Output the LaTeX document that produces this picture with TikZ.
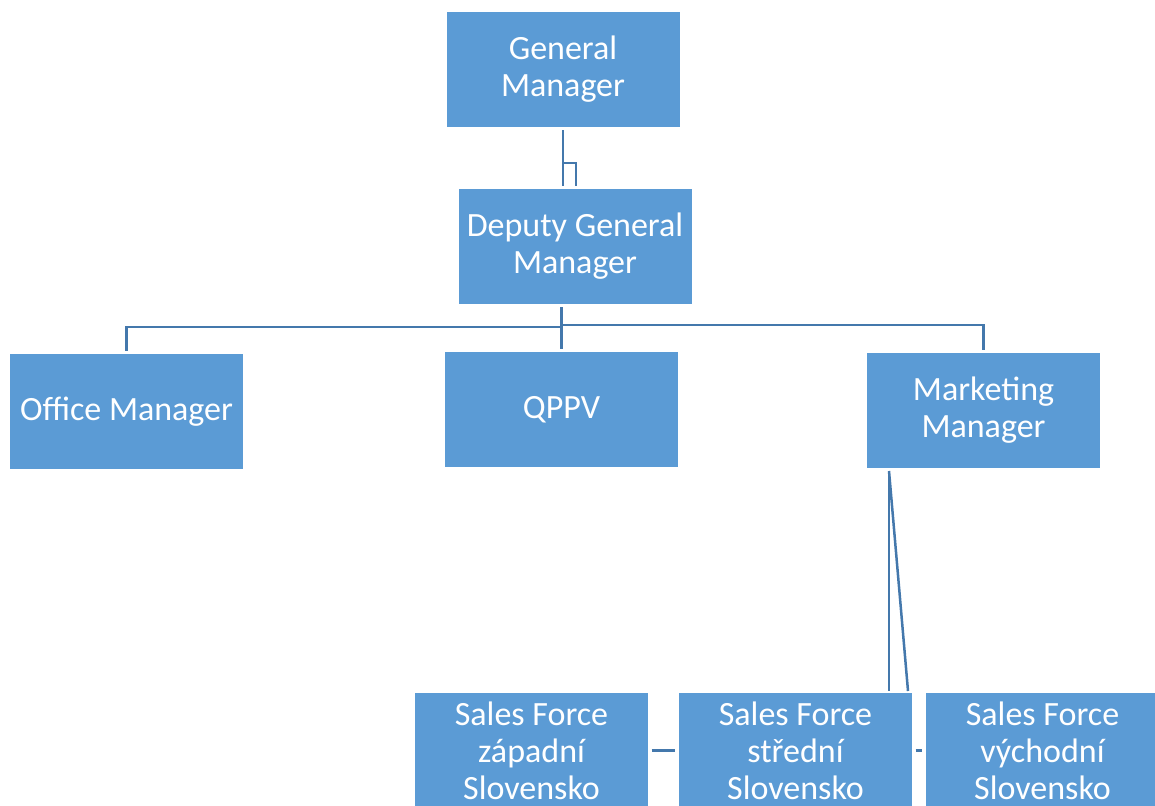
\documentclass[tikz,border=0pt]{standalone}
\usepackage{fontspec}
\setmainfont{Carlito}
\usepackage{xcolor}
\usetikzlibrary{positioning}
\definecolor{BoxBlue}{RGB}{91,155,213}
\definecolor{LineBlue}{RGB}{68,120,172}
\tikzset{
	orgbox/.style={fill=BoxBlue, text=white, inner sep=0pt, minimum width=233pt, minimum height=115pt, align=center, font=\fontsize{34}{37}\selectfont},
	conn/.style={draw=LineBlue, line width=2.5pt}
}
\begin{document}
\begin{tikzpicture}[x=1pt, y=-1pt]
			\useasboundingbox (0,0) rectangle (1155,805);
			\clip (0,0) rectangle (1155,805);
			\node[orgbox] (gm) at (563,69.5) {General\\Manager};
			\node[orgbox] (dgm) at (575,246.5) {Deputy General\\Manager};
			\node[orgbox] (om) at (126.5,411.5) {Office Manager};
			\node[orgbox] (qppv) at (561.5,409.5) {QPPV};
			\node[orgbox] (mm) at (983.5,410.5) {Marketing\\Manager};
			\node[orgbox] (sfz) at (531.5,750.5) {Sales Force\\západní\\Slovensko};
			\node[orgbox] (sfs) at (795.5,750.5) {Sales Force\\střední\\Slovensko};
			\node[orgbox] (sfv) at (1042.5,750.5) {Sales Force\\východní\\Slovensko};
			\coordinate (gmj) at (563,163);
			\coordinate (busl) at (563,327);
			\coordinate (busr) at (563,325);
			\coordinate (mmj) at (889,471);
			\coordinate (sfsj) at (908,691);
			\draw[conn] ([yshift=-3pt]gm.south) -- ([yshift=3pt]gm.south |- dgm.north);
			\draw[conn] (gmj) -| ([yshift=3pt]dgm.north -| 576,0);
			\draw[conn] ([yshift=-3pt]qppv.north |- dgm.south) -- ([yshift=3pt]qppv.north);
			\draw[conn] ([yshift=3pt]om.north) |- (busl);
			\draw[conn] ([yshift=3pt]mm.north) |- (busr);
			\draw[conn] (mmj) -- (mmj |- sfsj);
			\draw[conn] (mmj) -- (sfsj);
			\draw[conn, shorten <=3.5pt, shorten >=3.5pt] (sfz.east) -- (sfs.west);
			\draw[conn, shorten <=3.5pt, shorten >=3.5pt] (sfs.east) -- (sfv.west);
		\end{tikzpicture}
\end{document}
